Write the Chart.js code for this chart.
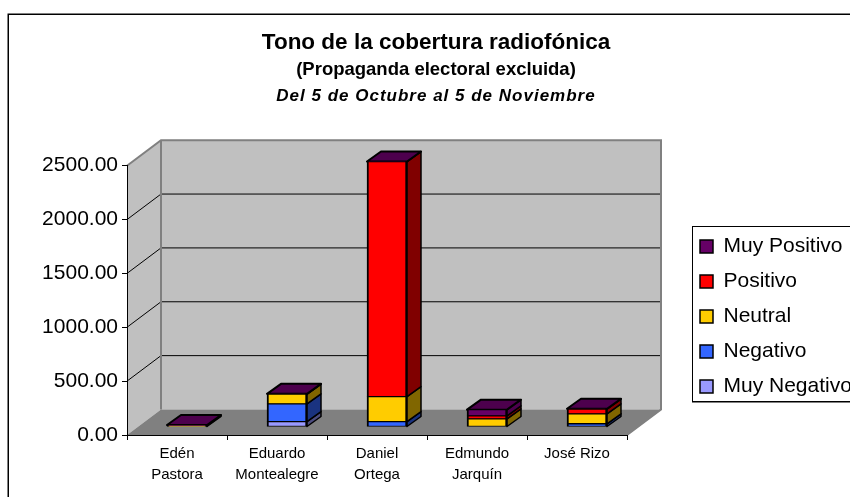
<!DOCTYPE html>
<html>
<head>
<meta charset="utf-8">
<script src="https://cdn.jsdelivr.net/npm/chart.js@4"></script>
<style>
  body { margin: 0; background: #fff; }
</style>
</head>
<body>
<canvas id="chart" width="850" height="497"></canvas>
<script>
const categories = [['Edén', 'Pastora'], ['Eduardo', 'Montealegre'], ['Daniel', 'Ortega'], ['Edmundo', 'Jarquín'], 'José Rizo'];
const muyNegativo = [0, 50, 0, 0, 0];
const negativo = [0, 165, 50, 0, 30];
const neutral = [12, 90, 232, 75, 92];
const positivo = [0, 0, 2181, 28, 44];
const muyPositivo = [6, 3, 2, 58, 3];
const yTicks = [0, 500, 1000, 1500, 2000, 2500];

const FONT = '"Liberation Sans", Arial, sans-serif';

// offset of the back wall, and of the bars, from the front plane of the axes
const WALL_DX = 34, WALL_DY = 25.5;
const BAR_DX = 10, BAR_DY = 8;
const SIDE_DX = 14, SIDE_DY = 10;

const sideColors = ['#4d4d80', '#1a3380', '#806600', '#800000', '#4d004d'];

function polygon(ctx, pts, fill, stroke, lw) {
    ctx.beginPath();
    pts.forEach((p, i) => i ? ctx.lineTo(p[0], p[1]) : ctx.moveTo(p[0], p[1]));
    ctx.closePath();
    if (fill) { ctx.fillStyle = fill; ctx.fill(); }
    if (stroke) { ctx.strokeStyle = stroke; ctx.lineWidth = lw; ctx.lineJoin = 'round'; ctx.stroke(); }
}

// walls, floor, frame and the box round the legend
const backdrop = {
    id: 'backdrop',
    beforeDraw(chart) {
        const { ctx, scales: { x, y } } = chart;
        const l = x.left, r = x.right, b = y.bottom, t = y.top;
        ctx.save();
        ctx.fillStyle = '#fff';
        ctx.fillRect(0, 0, chart.width, chart.height);
        // the frame runs off the right and bottom of the picture
        ctx.strokeStyle = '#000';
        ctx.lineWidth = 1.5;
        ctx.strokeRect(8.25, 14.25, 900, 600);

        // back wall + left wall
        polygon(ctx, [[l + WALL_DX, t - WALL_DY], [r + WALL_DX, t - WALL_DY], [r + WALL_DX, b - WALL_DY], [l + WALL_DX, b - WALL_DY]], '#c0c0c0');
        polygon(ctx, [[l, t], [l + WALL_DX, t - WALL_DY], [l + WALL_DX, b - WALL_DY], [l, b]], '#c0c0c0');
        polygon(ctx, [[l, b], [r, b], [r + WALL_DX, b - WALL_DY], [l + WALL_DX, b - WALL_DY]], '#808080');

        // gridlines run along the left wall then the back wall
        ctx.strokeStyle = '#000';
        ctx.lineWidth = 1;
        y.ticks.forEach(tick => {
            if (tick.value === 0 || tick.value === 2500) return;
            const py = y.getPixelForValue(tick.value);
            ctx.beginPath();
            ctx.moveTo(l, py);
            ctx.lineTo(l + WALL_DX, py - WALL_DY);
            ctx.lineTo(r + WALL_DX, py - WALL_DY);
            ctx.stroke();
        });

        ctx.strokeStyle = '#808080';
        ctx.lineWidth = 2;
        ctx.beginPath();
        ctx.moveTo(l, t);
        ctx.lineTo(l + WALL_DX, t - WALL_DY);
        ctx.lineTo(r + WALL_DX, t - WALL_DY);
        ctx.lineTo(r + WALL_DX, b - WALL_DY);
        ctx.lineTo(r, b);
        ctx.moveTo(l + WALL_DX, t - WALL_DY);
        ctx.lineTo(l + WALL_DX, b - WALL_DY);
        ctx.stroke();

        // legend box
        ctx.fillStyle = '#808080';
        ctx.fillRect(692, 227, 170, 176);
        ctx.fillStyle = '#fff';
        ctx.strokeStyle = '#000';
        ctx.lineWidth = 1;
        ctx.fillRect(692.5, 226.5, 170, 175);
        ctx.strokeRect(692.5, 226.5, 170, 175);

        // third title line, the title plugin has only one font per block
        ctx.fillStyle = '#000';
        ctx.font = 'italic bold 17px ' + FONT;
        ctx.letterSpacing = '1px';
        ctx.textAlign = 'center';
        ctx.textBaseline = 'alphabetic';
        ctx.fillText('Del 5 de Octubre al 5 de Noviembre', 436, 101);
        ctx.restore();
    },
    afterLayout(chart) {
        // title is centred on the frame, not on the plot
        chart.boxes.forEach(box => {
            if (box.position === 'top') { box.left = 0; box.right = 872; }
        });
        const legend = chart.legend;
        legend.left = 686;
        legend.right = legend.left + legend.width;
        legend.top = 222;
        legend.bottom = 497;
        legend.adjustHitBoxes();
    },
    // side and top faces of each bar segment
    beforeDatasetsDraw(chart) {
        const ctx = chart.ctx;
        ctx.save();
        const count = chart.data.labels.length;
        const metas = chart.data.datasets.map((d, i) => chart.getDatasetMeta(i));
        for (let c = 0; c < count; c++) {
            let top = -1;
            metas.forEach((meta, i) => {
                const bar = meta.data[c];
                if (!chart.data.datasets[i].data[c]) return;
                top = i;
                const xr = bar.x + bar.width / 2 + BAR_DX;
                const yt = bar.y - BAR_DY, yb = bar.base - BAR_DY;
                polygon(ctx, [[xr, yt], [xr + SIDE_DX, yt - SIDE_DY], [xr + SIDE_DX, yb - SIDE_DY], [xr, yb]], sideColors[i], '#000', 1.5);
            });
            const bar = metas[top].data[c];
            const xl = bar.x - bar.width / 2 + BAR_DX, xr = bar.x + bar.width / 2 + BAR_DX;
            const yt = bar.y - BAR_DY;
            polygon(ctx, [[xl, yt], [xl + SIDE_DX, yt - SIDE_DY], [xr + SIDE_DX, yt - SIDE_DY], [xr, yt]], sideColors[top], '#000', 2);
        }
        ctx.restore();
    },
    beforeDatasetDraw(chart) {
        chart.ctx.save();
        chart.ctx.translate(BAR_DX, -BAR_DY);
    },
    afterDatasetDraw(chart) {
        chart.ctx.restore();
    }
};

function barSeries(label, data, color) {
    // 1px top and bottom so two segments share a 2px line and thin ones keep their fill
    return { label, data, backgroundColor: color, borderColor: '#000', borderWidth: { left: 2, right: 2, top: 1, bottom: 1 }, borderSkipped: false, barThickness: 40, clip: false };
}

new Chart(document.getElementById('chart'), {
    type: 'bar',
    data: {
        labels: categories,
        datasets: [
            barSeries('Muy Negativo', muyNegativo, '#9999ff'),
            barSeries('Negativo', negativo, '#3366ff'),
            barSeries('Neutral', neutral, '#ffcc00'),
            barSeries('Positivo', positivo, '#ff0000'),
            barSeries('Muy Positivo', muyPositivo, '#660066')
        ]
    },
    options: {
        responsive: false,
        animation: false,
        layout: { padding: { left: 20, right: 223, top: 29, bottom: 8 } },
        scales: {
            x: {
                stacked: true,
                grid: { drawOnChartArea: false, color: '#000', tickLength: 5, tickWidth: 1 },
                border: { color: '#000', width: 1 },
                ticks: { color: '#000', font: { family: FONT, size: 15, lineHeight: 1.35 }, maxRotation: 0, padding: 4 },
                afterFit(scale) { scale.height = 54; }
            },
            y: {
                stacked: true,
                min: 0,
                max: 2500,
                afterBuildTicks(scale) { scale.ticks = yTicks.map(value => ({ value })); },
                grid: { drawOnChartArea: false, color: '#000', tickLength: 5, tickWidth: 1 },
                border: { color: '#000', width: 1 },
                ticks: { color: '#000', font: { family: FONT, size: 21 }, padding: 4, callback: v => v.toFixed(2) },
                afterFit(scale) { scale.width = 107; }
            }
        },
        plugins: {
            title: {
                display: true,
                text: 'Tono de la cobertura radiofónica',
                color: '#000',
                font: { family: FONT, size: 22.5, weight: 'bold' },
                padding: { top: 0, bottom: 3 }
            },
            subtitle: {
                display: true,
                text: '(Propaganda electoral excluida)',
                color: '#000',
                font: { family: FONT, size: 18.5, weight: 'bold' },
                padding: { top: 0, bottom: 84.5 }
            },
            legend: {
                position: 'chartArea',
                align: 'start',
                reverse: true,
                labels: { color: '#000', font: { family: FONT, size: 21 }, boxWidth: 13, boxHeight: 13, padding: 14 }
            },
            tooltip: { enabled: false }
        }
    },
    plugins: [backdrop]
});
</script>
</body>
</html>
